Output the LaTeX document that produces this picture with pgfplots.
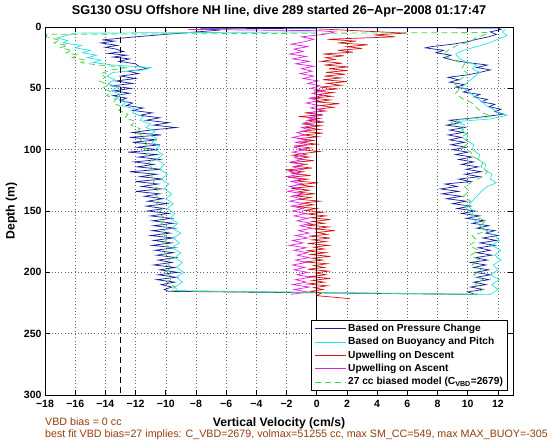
\documentclass[border=0pt]{standalone}
\usepackage{pgfplots}
\pgfplotsset{compat=1.18}
\usepackage{fontspec}
\setmainfont{Liberation Sans}
\definecolor{cpres}{RGB}{20,30,160}
\definecolor{cbuoy}{RGB}{40,225,225}
\definecolor{cdesc}{RGB}{210,20,20}
\definecolor{casc}{RGB}{225,30,225}
\definecolor{cmodel}{RGB}{80,210,80}
\definecolor{cnote}{RGB}{150,60,10}
\begin{document}
\begin{tikzpicture}
\path[use as bounding box] (-45bp,-47bp) rectangle (515bp,395bp);
\begin{axis}[
  at={(0,0)}, anchor=south west,
  scale only axis, width=468bp, height=368bp,
  xmin=-18, xmax=13, ymin=0, ymax=300, y dir=reverse,
  xtick={-18,-16,...,12},
  xticklabels={−18,−16,−14,−12,−10,−8,−6,−4,−2,0,2,4,6,8,10,12},
  ytick={0,50,...,300},
  yticklabels={0,50,100,150,200,250,300},
  tick align=inside, major tick length=5bp,
  every tick/.style={black, line width=0.6bp},
  axis line style={line width=0.6bp},
  grid=major, grid style={black!60, dash pattern=on 0.7bp off 2.6bp, line width=0.5bp},
  tick label style={font=\fontsize{10.5bp}{12bp}\selectfont\bfseries},
  xticklabel style={yshift=-2bp},
  yticklabel style={xshift=0bp},
  title={SG130 OSU Offshore NH line, dive 289 started 26−Apr−2008 01:17:47},
  title style={font=\fontsize{12.7bp}{14bp}\selectfont\bfseries, at={(0.5,1)}, anchor=base, yshift=7bp},
  xlabel={Vertical Velocity (cm/s)},
  ylabel={Depth (m)},
  label style={font=\fontsize{12.2bp}{14bp}\selectfont\bfseries},
  xlabel style={yshift=-3bp},
  legend style={at={(1,0)}, anchor=south east, xshift=-5bp, yshift=4bp,
    draw=black, line width=0.6bp, fill=white,
    font=\fontsize{10.2bp}{12bp}\selectfont\bfseries,
    nodes={text height=7.5bp, text depth=2.2bp, inner sep=1.8bp},
    cells={anchor=west}},
  legend image code/.code={\draw[#1, line width=0.8bp] (0bp,0bp) -- (31bp,0bp);},
  clip=true
]
% Based on Pressure Change
\addplot[cpres, line width=0.7bp] coordinates {
(0,1.0) (-7.7,1.5) (-6.4,2.5) (-9,5) (-12,8) (-14.2,10.5) (-13.4,11.5) (-14.3,13) (-13.2,15) (-14.0,16.5) (-13.3,18) (-12.8,20) (-13.8,21.5) (-12.6,23) (-13.5,24.5) (-12.4,26) (-13.1,28) (-12.0,30) (-11.8,32) (-11.2,34) (-12.5,36) (-11.8,38) (-13.0,40) (-12.0,42) (-13.3,44) (-12.2,46) (-13.6,48) (-12.3,50) (-13.4,52) (-12.4,54) (-13.5,56) (-12.6,58) (-13.0,60) (-12.2,62) (-12.6,64) (-11.5,66) (-12.2,68) (-10.9,70) (-11.7,72) (-10.4,74) (-11.3,76) (-9.8,78) (-10.8,80) (-9.3,82) (-11.0,84) (-12.2,86) (-10.3,88) (-12.4,90) (-10.6,92) (-12.2,94) (-10.4,96) (-11.9,98) (-10.5,100) (-12.5,102) (-10.6,104) (-11.8,106) (-10.4,108) (-12.1,110) (-10.8,112) (-11.9,114) (-10.3,116) (-12.4,118) (-10.6,120) (-11.7,122) (-10.2,124) (-12.0,126) (-10.5,128) (-11.6,130) (-10.3,132) (-12.0,134) (-10.4,136) (-11.4,138) (-10.2,140) (-11.2,142) (-9.9,144) (-11.3,146) (-10.1,148) (-11.2,150) (-9.8,152) (-11.0,154) (-9.6,156) (-10.9,158) (-9.5,160) (-10.8,162) (-9.4,164) (-10.9,166) (-9.7,168) (-11.0,170) (-9.5,172) (-10.8,174) (-9.6,176) (-10.9,178) (-9.4,180) (-10.7,182) (-9.5,184) (-10.6,186) (-9.3,188) (-10.5,190) (-9.6,192) (-10.8,194) (-9.4,196) (-10.4,198) (-9.2,200) (-10.5,202) (-9.3,204) (-10.6,206) (-9.4,208) (-10.3,210) (-9.6,212) (-10.1,214) (-9.8,215.5)
(10.5,218) (10.0,216) (11.0,214) (10.2,212) (11.2,210) (10.4,208) (11.4,206) (10.6,204) (11.5,202) (10.5,200) (11.4,198) (10.4,196) (11.2,194) (10.2,192) (11.3,190) (10.5,188) (11.6,186) (10.6,184) (11.5,182) (10.7,180) (11.8,178) (10.8,176) (11.9,174) (11.0,172) (12.0,170) (11.2,168) (11.8,166) (10.6,164) (11.4,162) (10.3,160) (11.1,158) (9.9,156) (10.8,154) (9.6,152) (10.5,150) (9.3,148) (10.2,146) (9.0,144) (9.9,142) (8.6,140) (9.6,138) (8.3,136) (9.4,134) (8.2,132) (9.3,130) (8.5,128) (10.2,126) (9.4,124) (10.8,122) (9.8,120) (10.9,118) (9.9,116) (10.7,114) (9.6,112) (10.4,110) (9.4,108) (10.3,106) (9.2,104) (10.0,102) (9.0,100) (9.9,98) (8.9,96) (9.8,94) (8.8,92) (9.6,90) (8.7,88) (9.7,86) (8.8,84) (9.8,82) (8.6,80) (9.5,78) (8.8,76) (10.5,74) (12.4,71) (11.8,69) (12.2,67) (11.4,65) (11.8,63) (10.9,61) (11.3,59) (10.4,57) (10.8,55) (9.7,53) (10.2,51) (9.2,49) (9.8,47) (8.8,45) (9.4,43) (8.7,41) (10.0,39) (10.8,37) (11.5,35) (10.6,33) (11.3,31) (10.0,29) (9.0,27) (8.4,25) (8.9,23) (7.9,21) (8.4,19) (7.2,17) (7.6,16) (9.0,14) (10.0,12) (10.6,10) (11.4,8) (11.9,6) (11.5,4) (12.2,2) (12.0,0.8) (0,0.5)
};
\addlegendentry{Based on Pressure Change}
% Based on Buoyancy and Pitch
\addplot[cbuoy, line width=0.7bp] coordinates {
(0,4) (-16,5) (-17.2,9) (-16.5,11) (-16.8,13) (-15.6,15) (-16.0,17) (-15.0,19) (-15.5,21) (-14.6,23) (-15.2,25) (-14.3,27) (-14.8,29) (-13.5,31) (-11.0,33) (-11.5,35) (-13.5,37) (-13.9,40) (-13.4,43) (-13.8,46) (-13.2,49) (-13.6,52) (-13.0,55) (-13.3,58) (-12.6,61) (-12.9,64) (-12.0,67) (-12.2,70) (-11.5,73) (-11.7,76) (-11.0,79) (-11.3,82) (-10.7,85) (-11.1,88) (-10.6,91) (-10.9,94) (-10.4,97) (-10.7,100) (-10.2,104) (-10.6,108) (-10.1,112) (-10.4,116) (-9.9,120) (-10.3,124) (-9.8,128) (-10.1,132) (-9.6,136) (-10.0,140) (-9.5,144) (-9.9,148) (-9.4,152) (-9.7,156) (-9.2,160) (-9.6,164) (-9.0,168) (-9.5,172) (-9.1,176) (-9.6,180) (-9.0,184) (-9.4,188) (-8.9,192) (-9.3,196) (-8.8,200) (-9.3,204) (-8.9,208) (-9.4,212) (-9.2,215)
(11.5,218) (12.0,214) (11.6,210) (12.1,206) (11.5,202) (12.0,198) (11.7,194) (12.2,190) (11.8,186) (12.2,182) (11.6,178) (12.1,174) (11.8,170) (11.2,166) (10.8,162) (10.5,158) (10.2,154) (10.4,150) (10.0,146) (10.3,142) (10.6,138) (10.9,134) (11.3,130) (11.9,127) (11.5,124) (11.6,120) (11.1,116) (11.2,112) (10.7,108) (10.8,104) (10.3,100) (10.4,96) (9.9,92) (10.0,88) (9.6,84) (9.8,80) (9.3,77) (11.5,75) (12.6,72) (12.0,70) (11.7,67) (11.2,64) (11.0,61) (10.6,58) (10.3,55) (10.0,52) (9.6,49) (9.9,46) (10.2,43) (10.5,40) (10.8,37) (10.3,34) (10.6,31) (9.8,28) (9.4,25) (9.2,22) (9.7,19) (10.6,16) (11.4,13) (12.0,10) (12.6,7) (12.3,4) (12.5,2)
};
\addlegendentry{Based on Buoyancy and Pitch}
% Upwelling on Descent
\addplot[cdesc, line width=0.7bp] coordinates {
(0.1,1.5) (5.9,5) (3.8,6.5) (5.2,8) (0.7,10) (2.6,11.5) (1.4,13) (3.4,14.5) (2.0,16) (3.0,17.5) (1.4,19) (2.4,20.5) (0.4,22) (1.8,23.5) (0.6,25) (1.2,26.5) (0.3,28) (1.7,29.5) (0.5,31) (2.1,32.5) (0.8,34) (2.0,35.5) (0.6,37) (1.9,38.5) (0.5,40) (1.6,41.5) (0.4,43) (2.0,44.5) (0.7,46) (1.6,47.5) (0.2,49) (1.4,50.5) (-0.2,52) (1.1,53.5) (0.0,55) (1.0,56.5) (-0.3,58) (0.9,59.5) (-0.1,61) (1.5,62.5) (0.2,64) (1.1,65.5) (0.0,67) (0.6,68.5) (-0.8,70) (0.4,71.5) (-1.2,73) (0.2,74.5) (-0.6,76) (0.5,77.5) (-1.0,79) (0.3,80.5) (-0.7,82) (0.2,83.5) (-1.1,85) (0.4,86.5) (-0.9,88) (0.1,89.5) (-1.3,91) (-0.2,92.5) (-1.0,94) (0.0,95.5) (-1.5,97) (-0.4,98.5) (-1.1,100) (0.2,101.5) (-0.8,103) (-1.6,104.5) (-0.5,106) (-1.3,107.5) (-0.2,109) (-1.8,110.5) (-0.7,112) (-1.4,113.5) (-0.3,115) (-2.1,116.5) (-0.9,118) (-1.6,119.5) (-0.4,121) (-1.9,122.5) (-0.6,124) (-1.4,125.5) (0.1,127) (-1.2,128.5) (-0.3,130) (-1.7,131.5) (-0.5,133) (-1.3,134.5) (-0.1,136) (-1.5,137.5) (-0.4,139) (-1.1,140.5) (0.2,142) (-0.9,143.5) (-0.2,145) (-1.3,146.5) (0.0,148) (-0.8,149.5) (0.4,151) (-0.6,152.5) (0.6,154) (-0.4,155.5) (0.9,157) (-0.3,158.5) (0.5,160) (-0.7,161.5) (0.8,163) (-0.2,164.5) (1.2,166) (0.0,167.5) (0.7,169) (-0.5,170.5) (0.9,172) (-0.3,173.5) (0.6,175) (-0.6,176.5) (0.8,178) (-0.2,179.5) (0.5,181) (-0.7,182.5) (0.6,184) (-0.4,185.5) (0.9,187) (-0.3,188.5) (0.4,190) (-0.8,191.5) (0.7,193) (-0.2,194.5) (0.5,196) (-0.6,197.5) (0.8,199) (-0.1,200.5) (0.6,202) (-0.5,203.5) (0.9,205) (-0.3,206.5) (0.5,208) (-0.6,209.5) (0.7,211) (-0.2,212.5) (0.4,214) (-0.4,215.5) (0.3,217) (0.0,219) (2.2,221.5)
};
\addlegendentry{Upwelling on Descent}
% Upwelling on Ascent
\addplot[casc, line width=0.7bp] coordinates {
(-1.7,218) (-0.6,216) (-1.5,214) (-0.5,212) (-1.6,210) (-0.7,208) (-1.4,206) (-0.4,204) (-1.3,202) (-0.6,200) (-1.5,198) (-0.8,196) (-1.6,194) (-0.7,192) (-1.4,190) (-0.5,188) (-1.3,186) (-0.6,184) (-1.5,182) (-0.7,180) (-1.8,178) (-0.9,176) (-1.6,174) (-0.6,172) (-1.4,170) (-0.5,168) (-1.2,166) (-0.3,164) (-1.1,162) (-0.4,160) (-1.3,158) (-0.6,156) (-1.5,154) (-0.7,152) (-1.6,150) (-0.9,148) (-1.7,146) (-0.8,144) (-1.8,142) (-1.0,140) (-1.7,138) (-0.9,136) (-1.9,134) (-1.1,132) (-1.8,130) (-0.9,128) (-1.7,126) (-1.0,124) (-2.0,122) (-1.1,120) (-1.8,118) (-0.9,116) (-1.6,114) (-0.8,112) (-1.7,110) (-0.9,108) (-1.5,106) (-0.7,104) (-1.6,102) (-0.8,100) (-1.5,98) (-0.6,96) (-1.4,94) (-0.5,92) (-1.6,90) (-0.8,88) (-1.3,86) (-0.4,84) (-1.0,82) (-0.2,80) (-0.8,78) (0.1,76) (-0.6,74) (0.3,72) (-0.5,70) (0.4,68) (-0.4,66) (0.2,64) (-0.7,62) (0.1,60) (-0.5,58) (0.4,56) (-0.3,54) (0.5,52) (-0.4,50) (0.2,48) (-0.6,46) (0.1,44) (-0.9,42) (-0.2,40) (-1.1,38) (-0.3,36) (-1.0,34) (-0.2,32) (-1.4,30) (-0.5,28) (-1.6,26) (-0.7,24) (-1.8,22) (-0.9,20) (-1.5,18) (-0.6,16) (-1.7,14) (-0.8,12) (-0.2,10) (-1.0,8) (0.5,6) (1.2,4) (0.2,3) (-8.5,2)
};
\addlegendentry{Upwelling on Ascent}
% 27 cc biased model
\addplot[cmodel, line width=0.8bp, dash pattern=on 6bp off 4bp] coordinates {
(11.3,4.5) (-17.9,6) (-17.9,8) (-17.0,11) (-17.4,13) (-16.5,15) (-17.0,17) (-16.2,19) (-16.6,21) (-15.8,23) (-16.2,25) (-15.3,27) (-15.6,29) (-14.5,31) (-12.5,33) (-13.6,35) (-14.3,38) (-14.0,41) (-14.4,44) (-13.8,47) (-14.2,50) (-13.6,53) (-13.9,56) (-13.3,59) (-13.5,62) (-12.9,65) (-13.1,68) (-12.5,71) (-12.7,74) (-12.0,77) (-12.3,80) (-11.7,83) (-12.0,86) (-11.4,89) (-11.7,92) (-11.2,95) (-11.5,98) (-11.0,101) (-11.3,104) (-10.9,108) (-11.2,112) (-10.8,116) (-11.1,120) (-10.7,124) (-10.9,128) (-10.5,132) (-10.8,136) (-10.4,140) (-10.6,144) (-10.2,148) (-10.5,152) (-10.0,156) (-10.3,160) (-9.9,164) (-10.3,168) (-9.8,172) (-10.2,176) (-9.7,180) (-10.1,184) (-9.6,188) (-10.0,192) (-9.6,196) (-10.1,200) (-9.5,204) (-9.9,208) (-9.4,212) (-9.7,215)
(10.5,218) (11.0,214) (10.5,210) (11.0,206) (10.4,202) (10.9,198) (10.3,194) (10.8,190) (10.2,186) (10.7,182) (10.1,178) (10.6,174) (10.3,170) (11.3,166) (10.8,162) (11.2,158) (10.3,154) (10.0,150) (9.8,146) (10.2,142) (9.7,138) (10.1,134) (9.8,130) (10.3,126) (11.0,122) (11.3,118) (10.9,114) (11.0,110) (10.4,106) (10.2,102) (9.7,98) (10.1,94) (9.6,90) (10.0,86) (9.5,82) (8.9,78) (9.2,76) (11.6,73) (11.0,70) (10.6,66) (10.3,62) (9.6,58) (9.2,54) (9.5,50) (9.1,46) (9.6,42) (10.0,38) (9.6,34) (9.8,30) (8.8,26) (8.4,22) (8.8,18) (9.3,15) (10.2,12) (10.5,9) (11.2,6) (11.3,4.5)
};
\addlegendentry{27 cc biased model (C\textsubscript{VBD}=2679)}
\addplot[black, line width=0.7bp, forget plot] coordinates {(0,0) (0,300)};
\addplot[black, line width=0.7bp, dash pattern=on 6bp off 4bp, forget plot] coordinates {(-13,0) (-13,300)};
\end{axis}
\node[anchor=base west, text=cnote, font=\fontsize{10.7bp}{12bp}\selectfont, inner sep=0pt] at (0bp,-30bp) {VBD bias = 0 cc};
\node[anchor=base west, text=cnote, font=\fontsize{10.7bp}{12bp}\selectfont, inner sep=0pt] at (0bp,-42bp) {best fit VBD bias=27 implies: C\_VBD=2679, volmax=51255 cc, max SM\_CC=549, max MAX\_BUOY=-305};
\end{tikzpicture}
\end{document}
